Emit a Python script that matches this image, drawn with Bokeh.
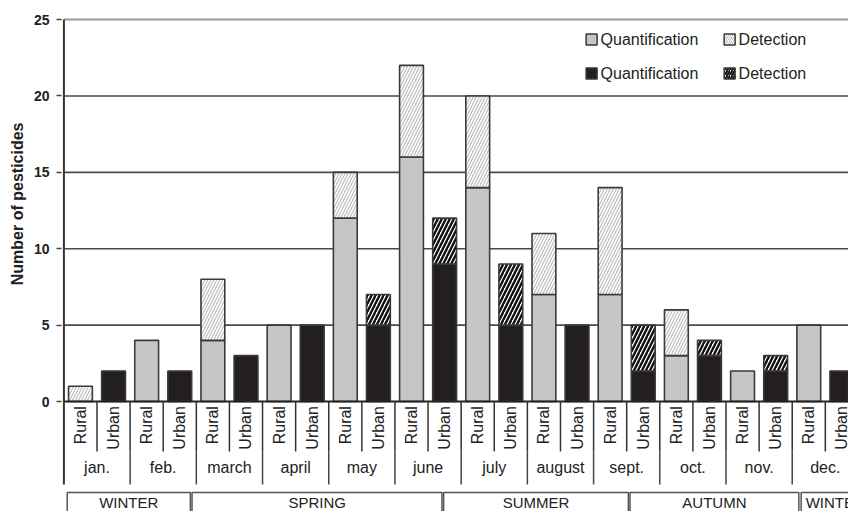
import math

from bokeh.core.properties import value
from bokeh.embed import file_html
from bokeh.models import ColumnDataSource, FixedTicker, Range1d, Title
from bokeh.plotting import figure
from bokeh.resources import INLINE

# Monthly number of pesticides, rural vs urban sites
months = ["jan.", "feb.", "march", "april", "may", "june",
          "july", "august", "sept.", "oct.", "nov.", "dec."]
rural_quant = [0, 4, 4, 5, 12, 16, 14, 7, 7, 3, 2, 5]
rural_det = [1, 0, 4, 0, 3, 6, 6, 4, 7, 3, 0, 0]
urban_quant = [2, 2, 3, 5, 5, 9, 5, 5, 2, 3, 2, 2]
urban_det = [0, 0, 0, 0, 2, 3, 4, 0, 3, 1, 1, 0]
site_labels = ["Rural", "Urban"]

# Season bands along the slot axis (two slots per month)
seasons = ["WINTER", "SPRING", "SUMMER", "AUTUMN", "WINTER"]
season_start = [0.1, 3.87, 11.47, 17.1, 22.27]
season_end = [3.82, 11.42, 17.05, 22.2, 25.0]
season_text_x = [1.96, 7.65, 14.26, 19.65, 23.3]

FONT = value("Liberation Sans")
DARK = "#231f20"
GREY = "#c6c6c8"
EDGE = "#3a3a3a"

p = figure(width=848, height=511, output_backend="svg", toolbar_location=None,
           x_axis_location=None,
           x_range=Range1d(-0.0725, 23.70), y_range=Range1d(-7.2, 25.92),
           min_border_left=61, min_border_right=0, min_border_top=5,
           min_border_bottom=0)
p.outline_line_color = None
p.xgrid.visible = False
p.ygrid.visible = False
p.background_fill_color = "white"

# y axis: ticks and labels only; the axis line is drawn as a segment
yax = p.yaxis[0]
yax.ticker = FixedTicker(ticks=[0, 5, 10, 15, 20, 25])
yax.axis_line_color = None
yax.major_tick_in = 0
yax.major_tick_out = 5
yax.major_tick_line_color = "#444444"
yax.major_tick_line_width = 1.5
yax.minor_tick_line_color = None
yax.major_label_standoff = 7
yax.major_label_text_font = "Liberation Sans"
yax.major_label_text_font_size = "14px"
yax.major_label_text_font_style = "bold"
yax.major_label_text_color = "#222222"

# y axis title, placed alongside the 0-25 span
p.add_layout(Title(text="Number of pesticides", align="right", offset=117,
                   standoff=10, text_font="Liberation Sans",
                   text_font_size="16px", text_font_style="bold",
                   text_color="#222222"), "left")

# horizontal reference lines
p.segment(x0=[0] * 4, x1=[30] * 4, y0=[5, 10, 15, 20], y1=[5, 10, 15, 20],
          line_color="#4a4a4a", line_width=1.6)
p.segment(x0=[0], x1=[30], y0=[25], y1=[25], line_color="#9a9a9a", line_width=2)

# stacked bars
n = len(months)
rx = [2 * i + 0.5 for i in range(n)]
ux = [2 * i + 1.5 for i in range(n)]
W = 0.72


def bars(xs, quant, det, fill, hatch_color, hatch_weight, hatch_scale):
    q = ColumnDataSource(dict(
        x=[x for x, v in zip(xs, quant) if v > 0],
        top=[v for v in quant if v > 0]))
    p.vbar(x="x", top="top", bottom=0, width=W, source=q,
           fill_color=fill, line_color=EDGE, line_width=1.6)
    d = ColumnDataSource(dict(
        x=[x for x, a, b in zip(xs, quant, det) if b > 0],
        bottom=[a for a, b in zip(quant, det) if b > 0],
        top=[a + b for a, b in zip(quant, det) if b > 0]))
    p.vbar(x="x", top="top", bottom="bottom", width=W, source=d,
           fill_color="white", line_color=EDGE, line_width=1.6,
           hatch_pattern="right_diagonal_line", hatch_color=hatch_color,
           hatch_weight=hatch_weight, hatch_scale=hatch_scale)


bars(rx, rural_quant, rural_det, GREY, "#bdbdbd", 1.2, 6)
bars(ux, urban_quant, urban_det, DARK, "#111111", 2.4, 8)

# base line and left axis line
p.segment(x0=[0], x1=[30], y0=[0], y1=[0], line_color="#222222", line_width=2)
p.segment(x0=[0], x1=[0], y0=[25], y1=[-5.43], line_color="#333333", line_width=2)

# category row: slot separators and rotated site labels
slot_edges = list(range(1, 2 * n + 1))
p.segment(x0=slot_edges, x1=slot_edges, y0=[0] * len(slot_edges),
          y1=[-3.27] * len(slot_edges), line_color="#333333", line_width=1.5)
p.text(x=rx + ux, y=[-0.3] * (2 * n),
       text=[site_labels[0]] * n + [site_labels[1]] * n,
       angle=math.pi / 2, text_align="right", text_baseline="middle",
       text_font=FONT, text_font_size="16px", text_color="#222222")

# month row
month_edges = [2 * i for i in range(1, n + 1)]
p.segment(x0=month_edges, x1=month_edges, y0=[-3.27] * n, y1=[-5.43] * n,
          line_color="#444444", line_width=1.5)
p.text(x=[2 * i + 1 for i in range(n)], y=[-4.3] * n, text=months,
       text_align="center", text_baseline="middle",
       text_font=FONT, text_font_size="16px", text_color="#222222")

# season row
p.quad(left=season_start, right=season_end, top=[-5.96] * len(seasons),
       bottom=[-7.8] * len(seasons), fill_color=None,
       line_color="#555555", line_width=1.5)
p.text(x=season_text_x, y=[-6.6] * len(seasons), text=seasons,
       text_align="center", text_baseline="middle",
       text_font=FONT, text_font_size="15px", text_color="#222222")

# legend
leg_sq_x = [15.94, 20.11, 15.94, 20.11]
leg_sq_y = [23.69, 23.69, 21.47, 21.47]
p.rect(x=leg_sq_x[0:1], y=leg_sq_y[0:1], width=11, height=11,
       width_units="screen", height_units="screen",
       fill_color=GREY, line_color=EDGE, line_width=1.5)
p.rect(x=leg_sq_x[1:2], y=leg_sq_y[1:2], width=11, height=11,
       width_units="screen", height_units="screen",
       fill_color="white", line_color=EDGE, line_width=1.5,
       hatch_pattern="right_diagonal_line", hatch_color="#bdbdbd",
       hatch_weight=1, hatch_scale=4)
p.rect(x=leg_sq_x[2:3], y=leg_sq_y[2:3], width=11, height=11,
       width_units="screen", height_units="screen",
       fill_color=DARK, line_color=EDGE, line_width=1.5)
p.rect(x=leg_sq_x[3:4], y=leg_sq_y[3:4], width=11, height=11,
       width_units="screen", height_units="screen",
       fill_color="white", line_color=EDGE, line_width=1.5,
       hatch_pattern="right_diagonal_line", hatch_color="#111111",
       hatch_weight=2, hatch_scale=5)
p.text(x=[16.21, 20.38, 16.21, 20.38], y=leg_sq_y,
       text=["Quantification", "Detection", "Quantification", "Detection"],
       text_align="left", text_baseline="middle",
       text_font=FONT, text_font_size="16px", text_color="#222222")

open("out.html", "w").write(file_html(p, INLINE))
